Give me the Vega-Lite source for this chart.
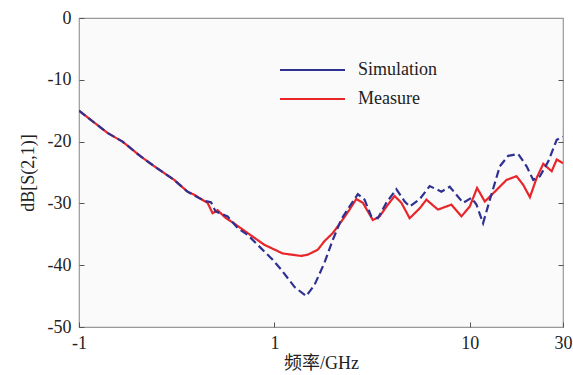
{
  "$schema": "https://vega.github.io/schema/vega-lite/v6.json",
  "width": 484,
  "height": 309,
  "autosize": {"type": "none"},
  "padding": {"left": 79, "top": 18, "right": 10, "bottom": 48},
  "background": "white",
  "config": {
    "view": {"fill": "#fafafa", "stroke": "#999999", "strokeWidth": 1.2},
    "font": "Liberation Serif",
    "axis": {
      "labelFont": "Liberation Serif",
      "titleFont": "Liberation Serif, Noto Sans CJK SC",
      "labelFontSize": 18,
      "titleFontSize": 18,
      "labelColor": "#222222",
      "titleColor": "#222222",
      "titleFontWeight": "normal",
      "domain": false,
      "grid": false,
      "tickColor": "#555555",
      "tickSize": -5,
      "tickWidth": 1
    },
    "legend": {
      "labelFont": "Liberation Serif",
      "labelFontSize": 18,
      "labelColor": "#222222",
      "padding": 0
    }
  },
  "data": {
    "values": [
      {"f": 0.1, "db": -15.0, "series": "Measure"},
      {"f": 0.14, "db": -18.6, "series": "Measure"},
      {"f": 0.167, "db": -20.0, "series": "Measure"},
      {"f": 0.207, "db": -22.4, "series": "Measure"},
      {"f": 0.243, "db": -24.0, "series": "Measure"},
      {"f": 0.307, "db": -26.2, "series": "Measure"},
      {"f": 0.359, "db": -28.1, "series": "Measure"},
      {"f": 0.389, "db": -28.6, "series": "Measure"},
      {"f": 0.4375, "db": -29.6, "series": "Measure"},
      {"f": 0.455, "db": -29.9, "series": "Measure"},
      {"f": 0.483, "db": -31.6, "series": "Measure"},
      {"f": 0.512, "db": -31.1, "series": "Measure"},
      {"f": 0.565, "db": -32.4, "series": "Measure"},
      {"f": 0.6, "db": -32.9, "series": "Measure"},
      {"f": 0.73, "db": -34.8, "series": "Measure"},
      {"f": 0.889, "db": -36.7, "series": "Measure"},
      {"f": 1.103, "db": -38.1, "series": "Measure"},
      {"f": 1.371, "db": -38.5, "series": "Measure"},
      {"f": 1.482, "db": -38.3, "series": "Measure"},
      {"f": 1.667, "db": -37.5, "series": "Measure"},
      {"f": 1.805, "db": -36.1, "series": "Measure"},
      {"f": 1.991, "db": -34.8, "series": "Measure"},
      {"f": 2.24, "db": -32.6, "series": "Measure"},
      {"f": 2.424, "db": -31.0, "series": "Measure"},
      {"f": 2.624, "db": -29.3, "series": "Measure"},
      {"f": 2.836, "db": -29.9, "series": "Measure"},
      {"f": 3.192, "db": -32.7, "series": "Measure"},
      {"f": 3.455, "db": -32.1, "series": "Measure"},
      {"f": 3.811, "db": -30.2, "series": "Measure"},
      {"f": 4.125, "db": -28.8, "series": "Measure"},
      {"f": 4.465, "db": -29.9, "series": "Measure"},
      {"f": 4.924, "db": -32.4, "series": "Measure"},
      {"f": 5.544, "db": -30.8, "series": "Measure"},
      {"f": 5.998, "db": -29.4, "series": "Measure"},
      {"f": 6.874, "db": -31.0, "series": "Measure"},
      {"f": 8.054, "db": -30.2, "series": "Measure"},
      {"f": 9.065, "db": -32.1, "series": "Measure"},
      {"f": 10.0, "db": -30.5, "series": "Measure"},
      {"f": 10.9, "db": -27.5, "series": "Measure"},
      {"f": 11.94, "db": -29.7, "series": "Measure"},
      {"f": 13.44, "db": -28.1, "series": "Measure"},
      {"f": 15.42, "db": -26.2, "series": "Measure"},
      {"f": 17.35, "db": -25.6, "series": "Measure"},
      {"f": 18.77, "db": -27.0, "series": "Measure"},
      {"f": 20.31, "db": -29.0, "series": "Measure"},
      {"f": 21.98, "db": -25.9, "series": "Measure"},
      {"f": 23.78, "db": -23.6, "series": "Measure"},
      {"f": 26.26, "db": -24.8, "series": "Measure"},
      {"f": 27.86, "db": -22.9, "series": "Measure"},
      {"f": 30.0, "db": -23.5, "series": "Measure"},
      {"f": 0.1, "db": -15.0, "series": "Simulation"},
      {"f": 0.14, "db": -18.6, "series": "Simulation"},
      {"f": 0.167, "db": -20.0, "series": "Simulation"},
      {"f": 0.207, "db": -22.4, "series": "Simulation"},
      {"f": 0.243, "db": -24.0, "series": "Simulation"},
      {"f": 0.307, "db": -26.2, "series": "Simulation"},
      {"f": 0.359, "db": -28.1, "series": "Simulation"},
      {"f": 0.4375, "db": -29.6, "series": "Simulation"},
      {"f": 0.4737, "db": -29.8, "series": "Simulation"},
      {"f": 0.5, "db": -31.3, "series": "Simulation"},
      {"f": 0.576, "db": -32.1, "series": "Simulation"},
      {"f": 0.649, "db": -34.0, "series": "Simulation"},
      {"f": 0.73, "db": -35.1, "series": "Simulation"},
      {"f": 0.889, "db": -37.8, "series": "Simulation"},
      {"f": 0.98, "db": -39.1, "series": "Simulation"},
      {"f": 1.082, "db": -40.7, "series": "Simulation"},
      {"f": 1.266, "db": -43.5, "series": "Simulation"},
      {"f": 1.454, "db": -45.0, "series": "Simulation"},
      {"f": 1.604, "db": -43.2, "series": "Simulation"},
      {"f": 1.805, "db": -39.6, "series": "Simulation"},
      {"f": 1.991, "db": -35.9, "series": "Simulation"},
      {"f": 2.198, "db": -32.6, "series": "Simulation"},
      {"f": 2.424, "db": -30.5, "series": "Simulation"},
      {"f": 2.674, "db": -28.5, "series": "Simulation"},
      {"f": 2.894, "db": -29.4, "series": "Simulation"},
      {"f": 3.133, "db": -32.1, "series": "Simulation"},
      {"f": 3.386, "db": -32.4, "series": "Simulation"},
      {"f": 3.74, "db": -29.9, "series": "Simulation"},
      {"f": 4.208, "db": -27.7, "series": "Simulation"},
      {"f": 4.643, "db": -29.7, "series": "Simulation"},
      {"f": 4.924, "db": -30.5, "series": "Simulation"},
      {"f": 5.544, "db": -29.3, "series": "Simulation"},
      {"f": 6.236, "db": -27.2, "series": "Simulation"},
      {"f": 7.155, "db": -28.1, "series": "Simulation"},
      {"f": 7.893, "db": -27.3, "series": "Simulation"},
      {"f": 9.245, "db": -29.9, "series": "Simulation"},
      {"f": 10.2, "db": -29.1, "series": "Simulation"},
      {"f": 10.82, "db": -30.2, "series": "Simulation"},
      {"f": 11.7, "db": -33.2, "series": "Simulation"},
      {"f": 12.67, "db": -29.4, "series": "Simulation"},
      {"f": 14.25, "db": -24.0, "series": "Simulation"},
      {"f": 15.73, "db": -22.3, "series": "Simulation"},
      {"f": 17.7, "db": -22.0, "series": "Simulation"},
      {"f": 19.54, "db": -24.0, "series": "Simulation"},
      {"f": 21.12, "db": -26.2, "series": "Simulation"},
      {"f": 22.86, "db": -25.6, "series": "Simulation"},
      {"f": 25.22, "db": -23.2, "series": "Simulation"},
      {"f": 27.86, "db": -19.7, "series": "Simulation"},
      {"f": 30.0, "db": -19.2, "series": "Simulation"}
    ]
  },
  "layer": [
    {
      "mark": {"type": "line", "strokeWidth": 2.2, "clip": true},
      "encoding": {
        "x": {
          "field": "f",
          "type": "quantitative",
          "scale": {"type": "log", "domain": [0.1, 30], "nice": false},
          "axis": {
            "title": "频率/GHz",
            "values": [0.1, 1, 10, 30],
            "labelExpr": "datum.value < 0.5 ? '-1' : '' + datum.value",
            "labelFont": "Liberation Serif",
            "labelFlush": false,
            "labelPadding": 12,
            "titlePadding": 2
          }
        },
        "y": {
          "field": "db",
          "type": "quantitative",
          "scale": {"domain": [-50, 0], "nice": false},
          "axis": {
            "title": "dB[S(2,1)]",
            "values": [0, -10, -20, -30, -40, -50],
            "labelExpr": "datum.value == 0 ? '0' : '-' + abs(datum.value)",
            "labelFont": "Liberation Serif",
            "labelPadding": 13,
            "titlePadding": 10
          }
        },
        "color": {
          "field": "series",
          "type": "nominal",
          "scale": {"domain": ["Simulation", "Measure"], "range": ["#2e3192", "#e8262a"]},
          "legend": {
            "title": null,
            "orient": "none",
            "legendX": 200,
            "legendY": 43,
            "symbolType": "stroke",
            "symbolSize": 4225,
            "symbolStrokeWidth": 2,
            "symbolDash": [1, 0],
            "clipHeight": 18,
            "rowPadding": 11,
            "labelOffset": 12,
            "labelFont": "Liberation Serif"
          }
        },
        "strokeDash": {
          "condition": {"test": "datum.series == 'Simulation'", "value": [8, 4]},
          "value": [1, 0]
        },
        "order": {"field": "f", "type": "quantitative"}
      }
    },
    {
      "mark": {"type": "line", "opacity": 0},
      "encoding": {
        "x": {"field": "f", "type": "quantitative", "scale": {"type": "log", "domain": [0.1, 30], "nice": false}},
        "y": {
          "field": "db",
          "type": "quantitative",
          "scale": {"domain": [-50, 0], "nice": false},
          "axis": {"orient": "right", "title": null, "labels": false, "values": [-10, -20, -30, -40]}
        }
      }
    }
  ],
  "resolve": {"scale": {"y": "independent"}, "axis": {"y": "independent"}}
}
